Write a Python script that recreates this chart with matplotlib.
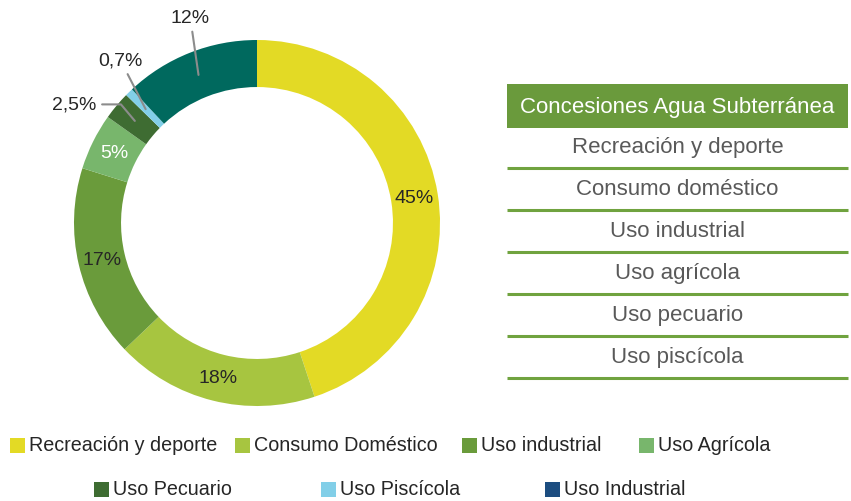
import numpy as np
import matplotlib
matplotlib.use('Agg')
from matplotlib import pyplot as plt
from matplotlib.patches import Rectangle

plt.rcParams['font.family'] = ['Liberation Sans', 'DejaVu Sans']

# datos del grafico
valores = [45, 18, 17, 5, 2.5, 0.7, 12]
etiquetas = ['45%', '18%', '17%', '5%', '2,5%', '0,7%', '12%']
colores = ['#E3DA25', '#A7C540', '#6A9B3B', '#78B66C', '#3E6C32', '#82CFE8', '#00695E']
color_etiqueta = ['#262626', '#262626', '#262626', 'white', '#262626', '#262626', '#262626']

leyenda = ['Recreación y deporte', 'Consumo Doméstico', 'Uso industrial', 'Uso Agrícola',
           'Uso Pecuario', 'Uso Piscícola', 'Uso Industrial']
colores_leyenda = ['#E3DA25', '#A7C540', '#6A9B3B', '#78B66C', '#3E6C32', '#82CFE8', '#1C4D80']

titulo_tabla = 'Concesiones Agua Subterránea'
filas_tabla = ['Recreación y deporte', 'Consumo doméstico', 'Uso industrial',
               'Uso agrícola', 'Uso pecuario', 'Uso piscícola']

W, H = 851, 502
fig = plt.figure(figsize=(W / 100, H / 100), dpi=100)

# ---- dona ----
cx, cy, R = 257, 224, 183
ax = fig.add_axes([(cx - R) / W, (H - cy - R) / H, 2 * R / W, 2 * R / H])
wedges, _ = ax.pie(valores, colors=colores, startangle=90, counterclock=False,
                   radius=1, wedgeprops=dict(width=0.257, linewidth=0))
ax.set_xlim(-1, 1)
ax.set_ylim(-1, 1)
ax.set_aspect('equal')
ax.axis('off')

# etiquetas fuera del anillo (radio, angulo, conector) para las porciones pequenas
fuera = {4: (1.19, 147.0, 'angle,angleA=0,angleB=130,rad=0'),
         5: (1.16, 130.0, 'arc3,rad=0'),
         6: (1.18, 108.0, 'arc3,rad=0')}
r_med = 0.87
for i, w in enumerate(wedges):
    ang = np.deg2rad((w.theta1 + w.theta2) / 2)
    x, y = r_med * np.cos(ang), r_med * np.sin(ang)
    if i in fuera:
        rt, at, cs = fuera[i]
        at = np.deg2rad(at)
        ax.annotate(etiquetas[i], xy=(x, y), xytext=(rt * np.cos(at), rt * np.sin(at)),
                    ha='center', va='center', fontsize=14, color=color_etiqueta[i],
                    annotation_clip=False,
                    arrowprops=dict(arrowstyle='-', color='#8C8C8C', lw=1.5,
                                    connectionstyle=cs, shrinkA=2, shrinkB=0))
    else:
        ax.text(x, y, etiquetas[i], ha='center', va='center', fontsize=14,
                color=color_etiqueta[i])

# ---- tabla y leyenda en coordenadas de pixel ----
bx = fig.add_axes([0, 0, 1, 1])
bx.set_xlim(0, W)
bx.set_ylim(H, 0)
bx.axis('off')
bx.patch.set_alpha(0)

tx0, tx1 = 507, 848
bx.add_patch(Rectangle((tx0, 85), tx1 - tx0, 44, color='#6A9A3C', lw=0))
bx.text((tx0 + tx1) / 2, 107, titulo_tabla, ha='center', va='center',
        fontsize=16, color='white')
for k, fila in enumerate(filas_tabla):
    yc = 148 + 42 * k
    bx.text((tx0 + tx1) / 2, yc, fila, ha='center', va='center',
            fontsize=16, color='#595959')
    bx.plot([tx0, tx1], [yc + 21, yc + 21], color='#70A33F', lw=2.2,
            solid_capstyle='butt')

# leyenda
pos_x = [10, 235, 462, 639, 94, 321, 545]
pos_y = [446, 446, 446, 446, 490, 490, 490]
for k, nombre in enumerate(leyenda):
    bx.add_patch(Rectangle((pos_x[k], pos_y[k] - 7.5), 15, 15,
                           color=colores_leyenda[k], lw=0))
    bx.text(pos_x[k] + 19, pos_y[k], nombre, ha='left', va='center',
            fontsize=14.2, color='#262626')

plt.savefig('out.png', dpi=100)
